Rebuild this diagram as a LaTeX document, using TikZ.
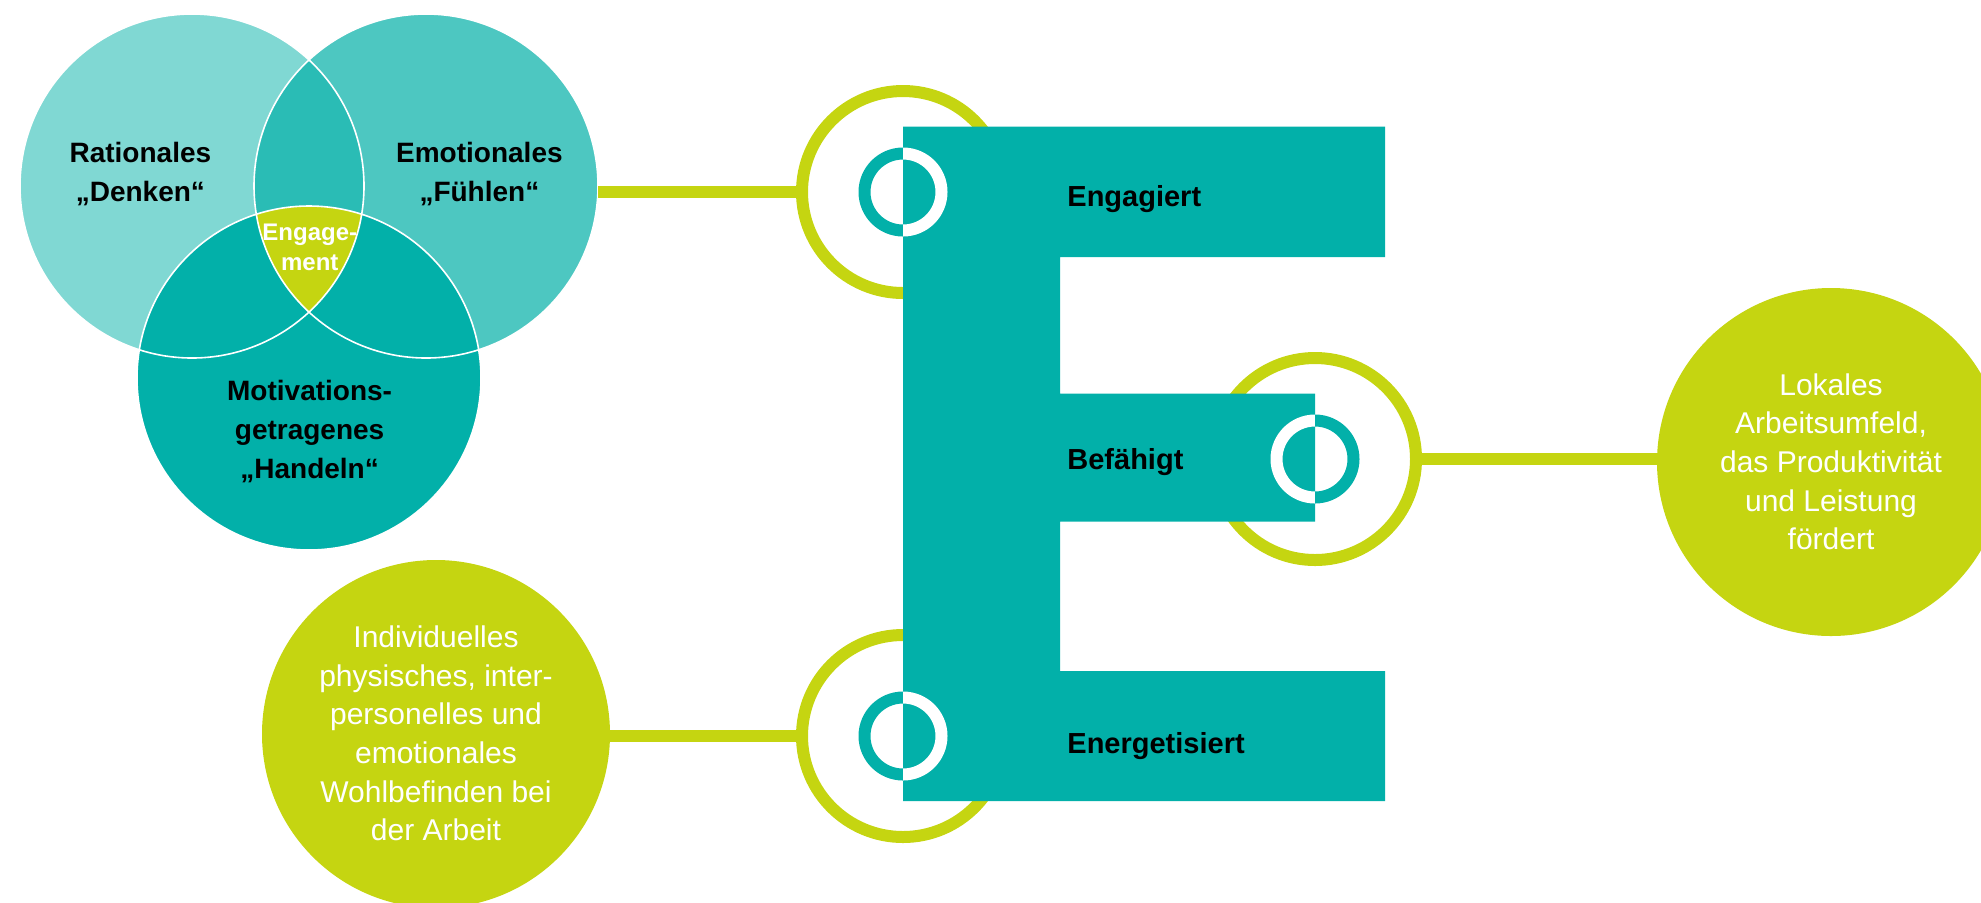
\documentclass[tikz,border=0pt]{standalone}
\usepackage{fontspec}
\setmainfont{Liberation Sans}

\definecolor{tealL}{HTML}{80D8D3}
\definecolor{tealM}{HTML}{4DC7C1}
\definecolor{tealX}{HTML}{2ABCB5}
\definecolor{tealD}{HTML}{02B0A9}
\definecolor{lime}{HTML}{C5D511}

% half-coloured small ring centred on a named node: #1 node, #2 left colour, #3 right colour
\newcommand\halfring[3]{%
  \begin{scope}
    \clip ([shift={(-50,-50)}]#1.center) rectangle ([shift={(0,50)}]#1.center);
    \draw[#2, line width=6pt] (#1.center) circle (38.5);
  \end{scope}
  \begin{scope}
    \clip ([shift={(0,-50)}]#1.center) rectangle ([shift={(50,50)}]#1.center);
    \draw[#3, line width=6pt] (#1.center) circle (38.5);
  \end{scope}}

\begin{document}
\begin{tikzpicture}[x=0.5pt, y=-0.5pt,
  disc/.style={circle, inner sep=0pt, minimum size=#1},
  bigring/.style={circle, inner sep=0pt, minimum size=101pt, draw=lime, line width=6pt},
  link/.style={draw=lime, line width=6pt},
  venntext/.style={anchor=base, inner sep=0pt, font=\bfseries\fontsize{14}{19.5}\selectfont},
  etext/.style={anchor=base west, inner sep=0pt, font=\bfseries\fontsize{14.5}{18}\selectfont},
  disctext/.style={anchor=base, inner sep=0pt, text=white, font=\fontsize{15}{19.35}\selectfont}]

\useasboundingbox (0,0) rectangle (1981,902);
\clip (0,0) rectangle (1981,902);

% ---- Venn diagram: thinking, feeling, acting ----
\node[disc=172pt] (vennA) at (192,186) {};
\node[disc=172pt] (vennB) at (426,186) {};
\node[disc=172pt] (vennC) at (309,378) {};
\fill[tealL] (vennA.center) circle (172);
\fill[tealM] (vennB.center) circle (172);
\begin{scope}
  \clip (vennA.center) circle (172);
  \fill[tealX] (vennB.center) circle (172);
\end{scope}
\fill[tealD] (vennC.center) circle (172);
\begin{scope}
  \clip (vennA.center) circle (172);
  \clip (vennB.center) circle (172);
  \fill[lime] (vennC.center) circle (172);
\end{scope}
\draw[white, line width=0.8pt] (vennA.center) circle (172) (vennB.center) circle (172) (vennC.center) circle (172);

\node[venntext] (tA) at (140.4,162.5) {\begin{tabular}[t]{@{}c@{}}Rationales\\„Denken“\end{tabular}};
\node[venntext] (tB) at (479.4,162.5) {\begin{tabular}[t]{@{}c@{}}Emotionales\\„Fühlen“\end{tabular}};
\node[venntext] (tC) at (309.6,400) {\begin{tabular}[t]{@{}c@{}}Motivations-\\getragenes\\„Handeln“\end{tabular}};
\node[anchor=base, inner sep=0pt, text=white, font=\bfseries\fontsize{12}{15}\selectfont] (tEng) at (309.8,240) {\begin{tabular}[t]{@{}c@{}}Engage-\\ment\end{tabular}};

% ---- outer discs ----
\node[disc=174pt, fill=lime] (lokal) at (1831,462) {};
\node[disc=174pt, fill=lime] (wohl) at (436,734) {};
\node[disctext] at (1831,395) {\begin{tabular}[t]{@{}c@{}}Lokales\\Arbeitsumfeld,\\das Produktivität\\und Leistung\\fördert\end{tabular}};
\node[disctext] at (436,647.3) {\begin{tabular}[t]{@{}c@{}}Individuelles\\physisches, inter-\\personelles und\\emotionales\\Wohlbefinden bei\\der Arbeit\end{tabular}};

% ---- rings on the E ----
\node[bigring] (ringA) at (903,192) {};
\node[bigring] (ringB) at (1315,459) {};
\node[bigring] (ringC) at (903,736) {};

% ---- connectors ----
\draw[link] (ringA.west) -- (ringA.west -| vennB.east);
\draw[link] (ringB.east) -- (ringB.east -| lokal.west);
\draw[link] (ringC.west) -- (ringC.west -| wohl.east);

% ---- the E ----
\fill[tealD] (903,126.7) -- (1385,126.7) -- (1385,257) -- (1060,257) -- (1060,393.5)
  -- (1315,393.5) -- (1315,521.5) -- (1060,521.5) -- (1060,671) -- (1385,671)
  -- (1385,801) -- (903,801) -- cycle;

\halfring{ringA}{tealD}{white}
\halfring{ringB}{white}{tealD}
\halfring{ringC}{tealD}{white}

\node[etext] (lEng) at (1067,206.7) {Engagiert};
\node[etext] (lBef) at (1067,469.3) {Befähigt};
\node[etext] (lEne) at (1067,753.3) {Energetisiert};

\end{tikzpicture}
\end{document}
